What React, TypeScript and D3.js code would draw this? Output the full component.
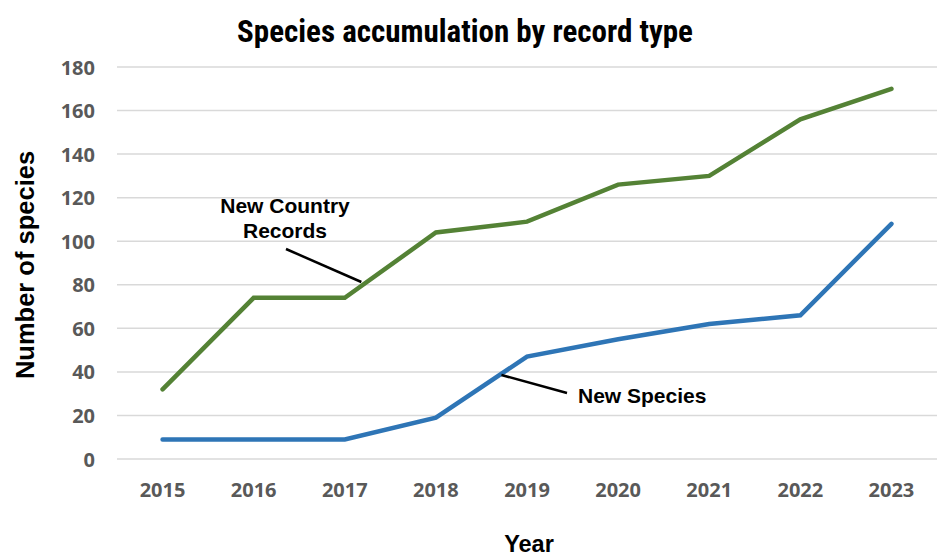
import React from "react";
import * as d3 from "d3";

// Cumulative species counts per year
const years = ["2015", "2016", "2017", "2018", "2019", "2020", "2021", "2022", "2023"];
const newCountryRecords = [32, 74, 74, 104, 109, 126, 130, 156, 170];
const newSpecies = [9, 9, 9, 19, 47, 55, 62, 66, 108];
const yTicks = [0, 20, 40, 60, 80, 100, 120, 140, 160, 180];

const W = 941;
const H = 556;
const margin = { top: 67, right: 4, bottom: 97, left: 117 };

const GREEN = "#548235";
const BLUE = "#2E75B6";
const NARROW_FONT = "'Liberation Sans Narrow', 'Roboto Condensed', 'Arial Narrow', 'Liberation Sans', Arial, sans-serif";
const TICK_FONT = "'Open Sans', Calibri, 'Liberation Sans', sans-serif";
const LABEL_FONT = "'Liberation Sans', Arial, sans-serif";

export default function App() {
  const x = d3
    .scaleBand<string>()
    .domain(years)
    .range([margin.left, W - margin.right])
    .paddingInner(0)
    .paddingOuter(0);
  const y = d3.scaleLinear().domain([0, 180]).range([H - margin.bottom, margin.top]);
  const cx = (yr: string) => (x(yr) ?? 0) + x.bandwidth() / 2;

  const line = d3
    .line<number>()
    .x((_, i) => cx(years[i]))
    .y((v) => y(v));

  return (
    <div style={{ position: "absolute", left: 0, top: 0 }}>
      <svg width={W} height={H} style={{ display: "block", background: "#fff" }}>
        {/* title */}
        <text
          x={465}
          y={42}
          textAnchor="middle"
          fontFamily={NARROW_FONT}
          fontWeight="bold"
          fontSize={31}
          fill="#000"
        >
          Species accumulation by record type
        </text>

        {/* horizontal gridlines */}
        {yTicks.map((t) => (
          <line
            key={t}
            x1={margin.left}
            x2={W - margin.right}
            y1={y(t)}
            y2={y(t)}
            stroke="#d9d9d9"
            strokeWidth={1.5}
          />
        ))}

        {/* y tick labels */}
        {yTicks.map((t) => (
          <text
            key={t}
            x={95}
            y={y(t) + 7.5}
            textAnchor="end"
            fontFamily={TICK_FONT}
            fontWeight="bold"
            fontSize={20}
            fill="#595959"
          >
            {t}
          </text>
        ))}

        {/* x tick labels */}
        {years.map((yr) => (
          <text
            key={yr}
            x={cx(yr)}
            y={497}
            textAnchor="middle"
            fontFamily={TICK_FONT}
            fontWeight="bold"
            fontSize={20}
            fill="#595959"
          >
            {yr}
          </text>
        ))}

        {/* axis titles */}
        <text
          x={529}
          y={552}
          textAnchor="middle"
          fontFamily={LABEL_FONT}
          fontWeight="bold"
          fontSize={23.5}
          fill="#000"
        >
          Year
        </text>
        <text
          transform={`translate(25, ${(150 + 380) / 2}) rotate(-90)`}
          dy="0.35em"
          textAnchor="middle"
          fontFamily={LABEL_FONT}
          fontWeight="bold"
          fontSize={25.5}
          fill="#000"
        >
          Number of species
        </text>

        {/* series lines */}
        <path d={line(newCountryRecords) ?? ""} fill="none" stroke={GREEN} strokeWidth={4.5} strokeLinejoin="miter" strokeLinecap="round" />
        <path d={line(newSpecies) ?? ""} fill="none" stroke={BLUE} strokeWidth={4.5} strokeLinejoin="miter" strokeLinecap="round" />

        {/* callouts */}
        <g fontFamily={LABEL_FONT} fontWeight="bold" fontSize={21} fill="#000">
          <text x={285} y={213} textAnchor="middle">New Country</text>
          <text x={285} y={238} textAnchor="middle">Records</text>
          <text x={578} y={403} textAnchor="start">New Species</text>
        </g>
        <line
          x1={286}
          y1={249}
          x2={(cx("2017") + cx("2018")) / 2 - 29}
          y2={282}
          stroke="#000"
          strokeWidth={2.5}
        />
        <line
          x1={(cx("2018") + cx("2019")) / 2 + 20}
          y1={375}
          x2={567}
          y2={393}
          stroke="#000"
          strokeWidth={2.5}
        />
      </svg>
    </div>
  );
}
